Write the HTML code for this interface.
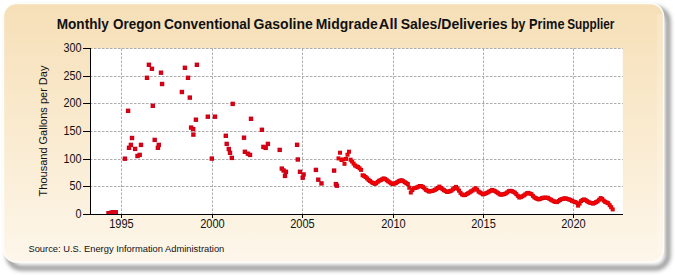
<!DOCTYPE html>
<html><head><meta charset="utf-8"><style>
html,body{margin:0;padding:0;background:#fff;}
svg{display:block;}
text{font-family:"Liberation Sans",sans-serif;fill:#111;}
</style></head><body>
<svg width="675" height="275" viewBox="0 0 675 275">
<defs>
<linearGradient id="bg" x1="0" y1="0" x2="0" y2="1">
<stop offset="0" stop-color="#f6dfb7"/>
<stop offset="0.5" stop-color="#faebd0"/>
<stop offset="1" stop-color="#fdf6ea"/>
</linearGradient>
<clipPath id="pc"><rect x="90" y="40" width="533" height="174"/></clipPath>
<filter id="sh" x="-5%" y="-5%" width="110%" height="115%"><feGaussianBlur stdDeviation="2.1"/></filter><filter id="bl" x="-2%" y="-2%" width="104%" height="104%"><feGaussianBlur stdDeviation="0.6"/></filter>
</defs>
<rect x="8.5" y="8.5" width="659.5" height="259.5" rx="13" fill="none" stroke="#959595" stroke-width="5" filter="url(#sh)"/>
<rect x="3.5" y="3.5" width="660" height="258.5" rx="13" fill="url(#bg)" stroke="#fffdf8" stroke-width="1.4" filter="url(#bl)"/>
<rect x="657" y="14" width="5" height="238" fill="#fff" fill-opacity="0.18" filter="url(#bl)"/>
<rect x="90" y="48.5" width="532.8" height="166.0" fill="#fff"/>
<g stroke="#acacac" stroke-width="1" stroke-dasharray="2.5 1.5"><line x1="90" y1="186.5" x2="622.8" y2="186.5"/><line x1="90" y1="159.5" x2="622.8" y2="159.5"/><line x1="90" y1="131.5" x2="622.8" y2="131.5"/><line x1="90" y1="103.5" x2="622.8" y2="103.5"/><line x1="90" y1="76.5" x2="622.8" y2="76.5"/><line x1="90" y1="48.5" x2="622.8" y2="48.5"/><line x1="121.5" y1="48.5" x2="121.5" y2="214.5"/><line x1="212.5" y1="48.5" x2="212.5" y2="214.5"/><line x1="302.5" y1="48.5" x2="302.5" y2="214.5"/><line x1="393.5" y1="48.5" x2="393.5" y2="214.5"/><line x1="483.5" y1="48.5" x2="483.5" y2="214.5"/><line x1="573.5" y1="48.5" x2="573.5" y2="214.5"/></g>
<g clip-path="url(#pc)"><g fill="#cc0010"><rect x="336.5" y="156.4" width="4.0" height="4.0"/><rect x="338.0" y="150.7" width="4.0" height="4.0"/><rect x="339.5" y="158.0" width="4.0" height="4.0"/><rect x="341.0" y="157.4" width="4.0" height="4.0"/><rect x="342.5" y="161.8" width="4.0" height="4.0"/><rect x="344.0" y="156.9" width="4.0" height="4.0"/><rect x="345.5" y="152.7" width="4.0" height="4.0"/><rect x="347.0" y="149.7" width="4.0" height="4.0"/><rect x="348.6" y="157.7" width="4.0" height="4.0"/><rect x="350.1" y="159.5" width="4.0" height="4.0"/><rect x="351.6" y="161.6" width="4.0" height="4.0"/><rect x="353.1" y="163.5" width="4.0" height="4.0"/><rect x="354.6" y="164.4" width="4.0" height="4.0"/><rect x="356.1" y="165.0" width="4.0" height="4.0"/><rect x="357.6" y="166.3" width="4.0" height="4.0"/><rect x="359.1" y="167.9" width="4.0" height="4.0"/><rect x="360.6" y="173.3" width="4.0" height="4.0"/><rect x="362.1" y="173.8" width="4.0" height="4.0"/><rect x="363.6" y="175.0" width="4.0" height="4.0"/><rect x="365.1" y="176.4" width="4.0" height="4.0"/><rect x="366.6" y="177.9" width="4.0" height="4.0"/><rect x="368.1" y="179.0" width="4.0" height="4.0"/><rect x="369.6" y="180.3" width="4.0" height="4.0"/><rect x="371.2" y="181.0" width="4.0" height="4.0"/><rect x="372.7" y="181.9" width="4.0" height="4.0"/><rect x="374.2" y="181.2" width="4.0" height="4.0"/><rect x="375.7" y="179.8" width="4.0" height="4.0"/><rect x="377.2" y="178.7" width="4.0" height="4.0"/><rect x="378.7" y="178.1" width="4.0" height="4.0"/><rect x="380.2" y="177.3" width="4.0" height="4.0"/><rect x="381.7" y="176.4" width="4.0" height="4.0"/><rect x="383.2" y="177.0" width="4.0" height="4.0"/><rect x="384.7" y="178.2" width="4.0" height="4.0"/><rect x="386.2" y="179.3" width="4.0" height="4.0"/><rect x="387.7" y="180.3" width="4.0" height="4.0"/><rect x="389.2" y="181.4" width="4.0" height="4.0"/><rect x="390.7" y="182.0" width="4.0" height="4.0"/><rect x="392.2" y="181.6" width="4.0" height="4.0"/><rect x="393.8" y="181.2" width="4.0" height="4.0"/><rect x="395.3" y="180.1" width="4.0" height="4.0"/><rect x="396.8" y="179.2" width="4.0" height="4.0"/><rect x="398.3" y="178.5" width="4.0" height="4.0"/><rect x="399.8" y="178.3" width="4.0" height="4.0"/><rect x="401.3" y="179.2" width="4.0" height="4.0"/><rect x="402.8" y="180.2" width="4.0" height="4.0"/><rect x="404.3" y="181.2" width="4.0" height="4.0"/><rect x="405.8" y="182.0" width="4.0" height="4.0"/><rect x="407.3" y="185.7" width="4.0" height="4.0"/><rect x="408.8" y="190.5" width="4.0" height="4.0"/><rect x="410.3" y="188.0" width="4.0" height="4.0"/><rect x="411.8" y="186.3" width="4.0" height="4.0"/><rect x="413.3" y="185.9" width="4.0" height="4.0"/><rect x="414.8" y="185.5" width="4.0" height="4.0"/><rect x="416.4" y="184.7" width="4.0" height="4.0"/><rect x="417.9" y="184.0" width="4.0" height="4.0"/><rect x="419.4" y="184.1" width="4.0" height="4.0"/><rect x="420.9" y="184.9" width="4.0" height="4.0"/><rect x="422.4" y="186.3" width="4.0" height="4.0"/><rect x="423.9" y="187.8" width="4.0" height="4.0"/><rect x="425.4" y="188.6" width="4.0" height="4.0"/><rect x="426.9" y="189.5" width="4.0" height="4.0"/><rect x="428.4" y="189.3" width="4.0" height="4.0"/><rect x="429.9" y="189.0" width="4.0" height="4.0"/><rect x="431.4" y="188.6" width="4.0" height="4.0"/><rect x="432.9" y="187.8" width="4.0" height="4.0"/><rect x="434.4" y="187.1" width="4.0" height="4.0"/><rect x="435.9" y="185.9" width="4.0" height="4.0"/><rect x="437.4" y="184.6" width="4.0" height="4.0"/><rect x="439.0" y="185.9" width="4.0" height="4.0"/><rect x="440.5" y="187.2" width="4.0" height="4.0"/><rect x="442.0" y="188.2" width="4.0" height="4.0"/><rect x="443.5" y="189.1" width="4.0" height="4.0"/><rect x="445.0" y="189.9" width="4.0" height="4.0"/><rect x="446.5" y="189.7" width="4.0" height="4.0"/><rect x="448.0" y="189.2" width="4.0" height="4.0"/><rect x="449.5" y="188.6" width="4.0" height="4.0"/><rect x="451.0" y="187.3" width="4.0" height="4.0"/><rect x="452.5" y="186.0" width="4.0" height="4.0"/><rect x="454.0" y="184.9" width="4.0" height="4.0"/><rect x="455.5" y="186.7" width="4.0" height="4.0"/><rect x="457.0" y="188.6" width="4.0" height="4.0"/><rect x="458.5" y="190.8" width="4.0" height="4.0"/><rect x="460.0" y="192.4" width="4.0" height="4.0"/><rect x="461.6" y="193.2" width="4.0" height="4.0"/><rect x="463.1" y="193.0" width="4.0" height="4.0"/><rect x="464.6" y="192.1" width="4.0" height="4.0"/><rect x="466.1" y="191.3" width="4.0" height="4.0"/><rect x="467.6" y="190.4" width="4.0" height="4.0"/><rect x="469.1" y="189.4" width="4.0" height="4.0"/><rect x="470.6" y="188.5" width="4.0" height="4.0"/><rect x="472.1" y="187.4" width="4.0" height="4.0"/><rect x="473.6" y="186.2" width="4.0" height="4.0"/><rect x="475.1" y="187.6" width="4.0" height="4.0"/><rect x="476.6" y="189.6" width="4.0" height="4.0"/><rect x="478.1" y="190.5" width="4.0" height="4.0"/><rect x="479.6" y="191.4" width="4.0" height="4.0"/><rect x="481.1" y="192.4" width="4.0" height="4.0"/><rect x="482.6" y="191.8" width="4.0" height="4.0"/><rect x="484.2" y="191.2" width="4.0" height="4.0"/><rect x="485.7" y="190.5" width="4.0" height="4.0"/><rect x="487.2" y="189.6" width="4.0" height="4.0"/><rect x="488.7" y="188.8" width="4.0" height="4.0"/><rect x="490.2" y="187.9" width="4.0" height="4.0"/><rect x="491.7" y="188.5" width="4.0" height="4.0"/><rect x="493.2" y="189.2" width="4.0" height="4.0"/><rect x="494.7" y="190.2" width="4.0" height="4.0"/><rect x="496.2" y="191.2" width="4.0" height="4.0"/><rect x="497.7" y="192.3" width="4.0" height="4.0"/><rect x="499.2" y="192.7" width="4.0" height="4.0"/><rect x="500.7" y="192.4" width="4.0" height="4.0"/><rect x="502.2" y="192.1" width="4.0" height="4.0"/><rect x="503.7" y="191.5" width="4.0" height="4.0"/><rect x="505.2" y="190.4" width="4.0" height="4.0"/><rect x="506.8" y="189.2" width="4.0" height="4.0"/><rect x="508.3" y="188.8" width="4.0" height="4.0"/><rect x="509.8" y="189.1" width="4.0" height="4.0"/><rect x="511.3" y="189.8" width="4.0" height="4.0"/><rect x="512.8" y="190.6" width="4.0" height="4.0"/><rect x="514.3" y="192.1" width="4.0" height="4.0"/><rect x="515.8" y="193.8" width="4.0" height="4.0"/><rect x="517.3" y="195.5" width="4.0" height="4.0"/><rect x="518.8" y="195.1" width="4.0" height="4.0"/><rect x="520.3" y="194.3" width="4.0" height="4.0"/><rect x="521.8" y="193.5" width="4.0" height="4.0"/><rect x="523.3" y="192.4" width="4.0" height="4.0"/><rect x="524.8" y="191.3" width="4.0" height="4.0"/><rect x="526.3" y="190.9" width="4.0" height="4.0"/><rect x="527.8" y="191.5" width="4.0" height="4.0"/><rect x="529.4" y="192.1" width="4.0" height="4.0"/><rect x="530.9" y="193.8" width="4.0" height="4.0"/><rect x="532.4" y="195.4" width="4.0" height="4.0"/><rect x="533.9" y="196.2" width="4.0" height="4.0"/><rect x="535.4" y="196.9" width="4.0" height="4.0"/><rect x="536.9" y="197.4" width="4.0" height="4.0"/><rect x="538.4" y="196.8" width="4.0" height="4.0"/><rect x="539.9" y="196.2" width="4.0" height="4.0"/><rect x="541.4" y="195.7" width="4.0" height="4.0"/><rect x="542.9" y="195.7" width="4.0" height="4.0"/><rect x="544.4" y="195.7" width="4.0" height="4.0"/><rect x="545.9" y="195.8" width="4.0" height="4.0"/><rect x="547.4" y="196.8" width="4.0" height="4.0"/><rect x="548.9" y="197.7" width="4.0" height="4.0"/><rect x="550.4" y="198.6" width="4.0" height="4.0"/><rect x="552.0" y="199.3" width="4.0" height="4.0"/><rect x="553.5" y="200.0" width="4.0" height="4.0"/><rect x="555.0" y="200.1" width="4.0" height="4.0"/><rect x="556.5" y="199.0" width="4.0" height="4.0"/><rect x="558.0" y="197.9" width="4.0" height="4.0"/><rect x="559.5" y="197.2" width="4.0" height="4.0"/><rect x="561.0" y="196.8" width="4.0" height="4.0"/><rect x="562.5" y="196.3" width="4.0" height="4.0"/><rect x="564.0" y="196.5" width="4.0" height="4.0"/><rect x="565.5" y="196.9" width="4.0" height="4.0"/><rect x="567.0" y="197.4" width="4.0" height="4.0"/><rect x="568.5" y="198.0" width="4.0" height="4.0"/><rect x="570.0" y="198.8" width="4.0" height="4.0"/><rect x="571.5" y="199.5" width="4.0" height="4.0"/><rect x="573.0" y="200.1" width="4.0" height="4.0"/><rect x="574.6" y="200.6" width="4.0" height="4.0"/><rect x="576.1" y="203.6" width="4.0" height="4.0"/><rect x="577.6" y="201.6" width="4.0" height="4.0"/><rect x="579.1" y="199.1" width="4.0" height="4.0"/><rect x="580.6" y="198.0" width="4.0" height="4.0"/><rect x="582.1" y="197.4" width="4.0" height="4.0"/><rect x="583.6" y="198.1" width="4.0" height="4.0"/><rect x="585.1" y="199.2" width="4.0" height="4.0"/><rect x="586.6" y="200.2" width="4.0" height="4.0"/><rect x="588.1" y="200.7" width="4.0" height="4.0"/><rect x="589.6" y="201.1" width="4.0" height="4.0"/><rect x="591.1" y="201.6" width="4.0" height="4.0"/><rect x="592.6" y="200.9" width="4.0" height="4.0"/><rect x="594.1" y="200.1" width="4.0" height="4.0"/><rect x="595.6" y="199.3" width="4.0" height="4.0"/><rect x="597.2" y="197.7" width="4.0" height="4.0"/><rect x="598.7" y="196.1" width="4.0" height="4.0"/><rect x="600.2" y="196.9" width="4.0" height="4.0"/><rect x="601.7" y="198.6" width="4.0" height="4.0"/><rect x="603.2" y="199.8" width="4.0" height="4.0"/><rect x="604.7" y="200.5" width="4.0" height="4.0"/><rect x="606.2" y="201.2" width="4.0" height="4.0"/><rect x="607.7" y="203.2" width="4.0" height="4.0"/><rect x="609.2" y="205.2" width="4.0" height="4.0"/><rect x="610.7" y="207.4" width="4.0" height="4.0"/></g>
<g fill="#f50000"><rect x="337.2" y="157.1" width="2.6" height="2.6"/><rect x="338.7" y="151.4" width="2.6" height="2.6"/><rect x="340.2" y="158.7" width="2.6" height="2.6"/><rect x="341.7" y="158.1" width="2.6" height="2.6"/><rect x="343.2" y="162.5" width="2.6" height="2.6"/><rect x="344.7" y="157.6" width="2.6" height="2.6"/><rect x="346.2" y="153.4" width="2.6" height="2.6"/><rect x="347.7" y="150.4" width="2.6" height="2.6"/><rect x="349.3" y="158.4" width="2.6" height="2.6"/><rect x="350.8" y="160.2" width="2.6" height="2.6"/><rect x="352.3" y="162.3" width="2.6" height="2.6"/><rect x="353.8" y="164.2" width="2.6" height="2.6"/><rect x="355.3" y="165.1" width="2.6" height="2.6"/><rect x="356.8" y="165.7" width="2.6" height="2.6"/><rect x="358.3" y="167.0" width="2.6" height="2.6"/><rect x="359.8" y="168.6" width="2.6" height="2.6"/><rect x="361.3" y="174.0" width="2.6" height="2.6"/><rect x="362.8" y="174.5" width="2.6" height="2.6"/><rect x="364.3" y="175.7" width="2.6" height="2.6"/><rect x="365.8" y="177.1" width="2.6" height="2.6"/><rect x="367.3" y="178.6" width="2.6" height="2.6"/><rect x="368.8" y="179.7" width="2.6" height="2.6"/><rect x="370.3" y="181.0" width="2.6" height="2.6"/><rect x="371.9" y="181.7" width="2.6" height="2.6"/><rect x="373.4" y="182.6" width="2.6" height="2.6"/><rect x="374.9" y="181.9" width="2.6" height="2.6"/><rect x="376.4" y="180.5" width="2.6" height="2.6"/><rect x="377.9" y="179.4" width="2.6" height="2.6"/><rect x="379.4" y="178.8" width="2.6" height="2.6"/><rect x="380.9" y="178.0" width="2.6" height="2.6"/><rect x="382.4" y="177.1" width="2.6" height="2.6"/><rect x="383.9" y="177.7" width="2.6" height="2.6"/><rect x="385.4" y="178.9" width="2.6" height="2.6"/><rect x="386.9" y="180.0" width="2.6" height="2.6"/><rect x="388.4" y="181.0" width="2.6" height="2.6"/><rect x="389.9" y="182.1" width="2.6" height="2.6"/><rect x="391.4" y="182.7" width="2.6" height="2.6"/><rect x="392.9" y="182.3" width="2.6" height="2.6"/><rect x="394.5" y="181.9" width="2.6" height="2.6"/><rect x="396.0" y="180.8" width="2.6" height="2.6"/><rect x="397.5" y="179.9" width="2.6" height="2.6"/><rect x="399.0" y="179.2" width="2.6" height="2.6"/><rect x="400.5" y="179.0" width="2.6" height="2.6"/><rect x="402.0" y="179.9" width="2.6" height="2.6"/><rect x="403.5" y="180.9" width="2.6" height="2.6"/><rect x="405.0" y="181.9" width="2.6" height="2.6"/><rect x="406.5" y="182.7" width="2.6" height="2.6"/><rect x="408.0" y="186.4" width="2.6" height="2.6"/><rect x="409.5" y="191.2" width="2.6" height="2.6"/><rect x="411.0" y="188.7" width="2.6" height="2.6"/><rect x="412.5" y="187.0" width="2.6" height="2.6"/><rect x="414.0" y="186.6" width="2.6" height="2.6"/><rect x="415.5" y="186.2" width="2.6" height="2.6"/><rect x="417.1" y="185.4" width="2.6" height="2.6"/><rect x="418.6" y="184.7" width="2.6" height="2.6"/><rect x="420.1" y="184.8" width="2.6" height="2.6"/><rect x="421.6" y="185.6" width="2.6" height="2.6"/><rect x="423.1" y="187.0" width="2.6" height="2.6"/><rect x="424.6" y="188.5" width="2.6" height="2.6"/><rect x="426.1" y="189.3" width="2.6" height="2.6"/><rect x="427.6" y="190.2" width="2.6" height="2.6"/><rect x="429.1" y="190.0" width="2.6" height="2.6"/><rect x="430.6" y="189.7" width="2.6" height="2.6"/><rect x="432.1" y="189.3" width="2.6" height="2.6"/><rect x="433.6" y="188.5" width="2.6" height="2.6"/><rect x="435.1" y="187.8" width="2.6" height="2.6"/><rect x="436.6" y="186.6" width="2.6" height="2.6"/><rect x="438.1" y="185.3" width="2.6" height="2.6"/><rect x="439.7" y="186.6" width="2.6" height="2.6"/><rect x="441.2" y="187.9" width="2.6" height="2.6"/><rect x="442.7" y="188.9" width="2.6" height="2.6"/><rect x="444.2" y="189.8" width="2.6" height="2.6"/><rect x="445.7" y="190.6" width="2.6" height="2.6"/><rect x="447.2" y="190.4" width="2.6" height="2.6"/><rect x="448.7" y="189.9" width="2.6" height="2.6"/><rect x="450.2" y="189.3" width="2.6" height="2.6"/><rect x="451.7" y="188.0" width="2.6" height="2.6"/><rect x="453.2" y="186.7" width="2.6" height="2.6"/><rect x="454.7" y="185.6" width="2.6" height="2.6"/><rect x="456.2" y="187.4" width="2.6" height="2.6"/><rect x="457.7" y="189.3" width="2.6" height="2.6"/><rect x="459.2" y="191.5" width="2.6" height="2.6"/><rect x="460.7" y="193.1" width="2.6" height="2.6"/><rect x="462.3" y="193.9" width="2.6" height="2.6"/><rect x="463.8" y="193.7" width="2.6" height="2.6"/><rect x="465.3" y="192.8" width="2.6" height="2.6"/><rect x="466.8" y="192.0" width="2.6" height="2.6"/><rect x="468.3" y="191.1" width="2.6" height="2.6"/><rect x="469.8" y="190.1" width="2.6" height="2.6"/><rect x="471.3" y="189.2" width="2.6" height="2.6"/><rect x="472.8" y="188.1" width="2.6" height="2.6"/><rect x="474.3" y="186.9" width="2.6" height="2.6"/><rect x="475.8" y="188.3" width="2.6" height="2.6"/><rect x="477.3" y="190.3" width="2.6" height="2.6"/><rect x="478.8" y="191.2" width="2.6" height="2.6"/><rect x="480.3" y="192.1" width="2.6" height="2.6"/><rect x="481.8" y="193.1" width="2.6" height="2.6"/><rect x="483.3" y="192.5" width="2.6" height="2.6"/><rect x="484.9" y="191.9" width="2.6" height="2.6"/><rect x="486.4" y="191.2" width="2.6" height="2.6"/><rect x="487.9" y="190.3" width="2.6" height="2.6"/><rect x="489.4" y="189.5" width="2.6" height="2.6"/><rect x="490.9" y="188.6" width="2.6" height="2.6"/><rect x="492.4" y="189.2" width="2.6" height="2.6"/><rect x="493.9" y="189.9" width="2.6" height="2.6"/><rect x="495.4" y="190.9" width="2.6" height="2.6"/><rect x="496.9" y="191.9" width="2.6" height="2.6"/><rect x="498.4" y="193.0" width="2.6" height="2.6"/><rect x="499.9" y="193.4" width="2.6" height="2.6"/><rect x="501.4" y="193.1" width="2.6" height="2.6"/><rect x="502.9" y="192.8" width="2.6" height="2.6"/><rect x="504.4" y="192.2" width="2.6" height="2.6"/><rect x="505.9" y="191.1" width="2.6" height="2.6"/><rect x="507.5" y="189.9" width="2.6" height="2.6"/><rect x="509.0" y="189.5" width="2.6" height="2.6"/><rect x="510.5" y="189.8" width="2.6" height="2.6"/><rect x="512.0" y="190.5" width="2.6" height="2.6"/><rect x="513.5" y="191.3" width="2.6" height="2.6"/><rect x="515.0" y="192.8" width="2.6" height="2.6"/><rect x="516.5" y="194.5" width="2.6" height="2.6"/><rect x="518.0" y="196.2" width="2.6" height="2.6"/><rect x="519.5" y="195.8" width="2.6" height="2.6"/><rect x="521.0" y="195.0" width="2.6" height="2.6"/><rect x="522.5" y="194.2" width="2.6" height="2.6"/><rect x="524.0" y="193.1" width="2.6" height="2.6"/><rect x="525.5" y="192.0" width="2.6" height="2.6"/><rect x="527.0" y="191.6" width="2.6" height="2.6"/><rect x="528.5" y="192.2" width="2.6" height="2.6"/><rect x="530.1" y="192.8" width="2.6" height="2.6"/><rect x="531.6" y="194.5" width="2.6" height="2.6"/><rect x="533.1" y="196.1" width="2.6" height="2.6"/><rect x="534.6" y="196.9" width="2.6" height="2.6"/><rect x="536.1" y="197.6" width="2.6" height="2.6"/><rect x="537.6" y="198.1" width="2.6" height="2.6"/><rect x="539.1" y="197.5" width="2.6" height="2.6"/><rect x="540.6" y="196.9" width="2.6" height="2.6"/><rect x="542.1" y="196.4" width="2.6" height="2.6"/><rect x="543.6" y="196.4" width="2.6" height="2.6"/><rect x="545.1" y="196.4" width="2.6" height="2.6"/><rect x="546.6" y="196.5" width="2.6" height="2.6"/><rect x="548.1" y="197.5" width="2.6" height="2.6"/><rect x="549.6" y="198.4" width="2.6" height="2.6"/><rect x="551.1" y="199.3" width="2.6" height="2.6"/><rect x="552.7" y="200.0" width="2.6" height="2.6"/><rect x="554.2" y="200.7" width="2.6" height="2.6"/><rect x="555.7" y="200.8" width="2.6" height="2.6"/><rect x="557.2" y="199.7" width="2.6" height="2.6"/><rect x="558.7" y="198.6" width="2.6" height="2.6"/><rect x="560.2" y="197.9" width="2.6" height="2.6"/><rect x="561.7" y="197.5" width="2.6" height="2.6"/><rect x="563.2" y="197.0" width="2.6" height="2.6"/><rect x="564.7" y="197.2" width="2.6" height="2.6"/><rect x="566.2" y="197.6" width="2.6" height="2.6"/><rect x="567.7" y="198.1" width="2.6" height="2.6"/><rect x="569.2" y="198.7" width="2.6" height="2.6"/><rect x="570.7" y="199.5" width="2.6" height="2.6"/><rect x="572.2" y="200.2" width="2.6" height="2.6"/><rect x="573.7" y="200.8" width="2.6" height="2.6"/><rect x="575.3" y="201.3" width="2.6" height="2.6"/><rect x="576.8" y="204.3" width="2.6" height="2.6"/><rect x="578.3" y="202.3" width="2.6" height="2.6"/><rect x="579.8" y="199.8" width="2.6" height="2.6"/><rect x="581.3" y="198.7" width="2.6" height="2.6"/><rect x="582.8" y="198.1" width="2.6" height="2.6"/><rect x="584.3" y="198.8" width="2.6" height="2.6"/><rect x="585.8" y="199.9" width="2.6" height="2.6"/><rect x="587.3" y="200.9" width="2.6" height="2.6"/><rect x="588.8" y="201.4" width="2.6" height="2.6"/><rect x="590.3" y="201.8" width="2.6" height="2.6"/><rect x="591.8" y="202.3" width="2.6" height="2.6"/><rect x="593.3" y="201.6" width="2.6" height="2.6"/><rect x="594.8" y="200.8" width="2.6" height="2.6"/><rect x="596.3" y="200.0" width="2.6" height="2.6"/><rect x="597.9" y="198.4" width="2.6" height="2.6"/><rect x="599.4" y="196.8" width="2.6" height="2.6"/><rect x="600.9" y="197.6" width="2.6" height="2.6"/><rect x="602.4" y="199.3" width="2.6" height="2.6"/><rect x="603.9" y="200.5" width="2.6" height="2.6"/><rect x="605.4" y="201.2" width="2.6" height="2.6"/><rect x="606.9" y="201.9" width="2.6" height="2.6"/><rect x="608.4" y="203.9" width="2.6" height="2.6"/><rect x="609.9" y="205.9" width="2.6" height="2.6"/><rect x="611.4" y="208.1" width="2.6" height="2.6"/></g>
<g fill="#c8001a"><rect x="146.7" y="62.6" width="4.4" height="4.4"/><rect x="149.7" y="66.6" width="4.4" height="4.4"/><rect x="158.8" y="70.5" width="4.4" height="4.4"/><rect x="144.8" y="75.6" width="4.4" height="4.4"/><rect x="159.9" y="81.8" width="4.4" height="4.4"/><rect x="182.7" y="65.6" width="4.4" height="4.4"/><rect x="185.8" y="75.6" width="4.4" height="4.4"/><rect x="179.7" y="89.8" width="4.4" height="4.4"/><rect x="187.6" y="95.4" width="4.4" height="4.4"/><rect x="150.6" y="103.6" width="4.4" height="4.4"/><rect x="125.9" y="108.6" width="4.4" height="4.4"/><rect x="129.8" y="135.8" width="4.4" height="4.4"/><rect x="128.7" y="142.7" width="4.4" height="4.4"/><rect x="126.8" y="145.6" width="4.4" height="4.4"/><rect x="132.9" y="146.7" width="4.4" height="4.4"/><rect x="138.8" y="142.7" width="4.4" height="4.4"/><rect x="152.5" y="137.7" width="4.4" height="4.4"/><rect x="156.6" y="142.7" width="4.4" height="4.4"/><rect x="155.7" y="145.6" width="4.4" height="4.4"/><rect x="135.3" y="153.8" width="4.4" height="4.4"/><rect x="137.5" y="152.7" width="4.4" height="4.4"/><rect x="122.7" y="156.5" width="4.4" height="4.4"/><rect x="188.9" y="125.4" width="4.4" height="4.4"/><rect x="191.2" y="132.4" width="4.4" height="4.4"/><rect x="191.0" y="126.9" width="4.4" height="4.4"/><rect x="194.7" y="62.6" width="4.4" height="4.4"/><rect x="230.5" y="101.7" width="4.4" height="4.4"/><rect x="205.6" y="114.5" width="4.4" height="4.4"/><rect x="212.8" y="114.5" width="4.4" height="4.4"/><rect x="193.7" y="117.5" width="4.4" height="4.4"/><rect x="248.8" y="116.6" width="4.4" height="4.4"/><rect x="223.6" y="133.6" width="4.4" height="4.4"/><rect x="224.5" y="141.7" width="4.4" height="4.4"/><rect x="226.6" y="146.8" width="4.4" height="4.4"/><rect x="227.8" y="150.6" width="4.4" height="4.4"/><rect x="229.6" y="155.7" width="4.4" height="4.4"/><rect x="209.6" y="156.4" width="4.4" height="4.4"/><rect x="241.8" y="135.5" width="4.4" height="4.4"/><rect x="242.7" y="149.6" width="4.4" height="4.4"/><rect x="245.7" y="151.5" width="4.4" height="4.4"/><rect x="247.8" y="152.7" width="4.4" height="4.4"/><rect x="259.7" y="127.6" width="4.4" height="4.4"/><rect x="261.2" y="144.7" width="4.4" height="4.4"/><rect x="263.5" y="145.7" width="4.4" height="4.4"/><rect x="265.7" y="141.7" width="4.4" height="4.4"/><rect x="277.5" y="147.7" width="4.4" height="4.4"/><rect x="279.6" y="166.4" width="4.4" height="4.4"/><rect x="281.4" y="168.3" width="4.4" height="4.4"/><rect x="283.7" y="169.6" width="4.4" height="4.4"/><rect x="282.8" y="173.7" width="4.4" height="4.4"/><rect x="294.9" y="142.6" width="4.4" height="4.4"/><rect x="295.6" y="157.3" width="4.4" height="4.4"/><rect x="297.8" y="169.6" width="4.4" height="4.4"/><rect x="301.4" y="172.3" width="4.4" height="4.4"/><rect x="300.5" y="175.5" width="4.4" height="4.4"/><rect x="313.7" y="167.7" width="4.4" height="4.4"/><rect x="316.1" y="177.5" width="4.4" height="4.4"/><rect x="319.3" y="181.2" width="4.4" height="4.4"/><rect x="331.9" y="168.4" width="4.4" height="4.4"/><rect x="333.7" y="181.9" width="4.4" height="4.4"/><rect x="334.6" y="183.5" width="4.4" height="4.4"/><rect x="106.3" y="211.0" width="4.4" height="4.4"/><rect x="107.8" y="211.0" width="4.4" height="4.4"/><rect x="109.3" y="210.4" width="4.4" height="4.4"/><rect x="110.8" y="210.1" width="4.4" height="4.4"/><rect x="112.3" y="210.1" width="4.4" height="4.4"/><rect x="113.6" y="210.1" width="4.4" height="4.4"/></g>
<g fill="#e00010"><rect x="147.7" y="63.6" width="2.4" height="2.4"/><rect x="150.7" y="67.6" width="2.4" height="2.4"/><rect x="159.8" y="71.5" width="2.4" height="2.4"/><rect x="145.8" y="76.6" width="2.4" height="2.4"/><rect x="160.9" y="82.8" width="2.4" height="2.4"/><rect x="183.7" y="66.6" width="2.4" height="2.4"/><rect x="186.8" y="76.6" width="2.4" height="2.4"/><rect x="180.7" y="90.8" width="2.4" height="2.4"/><rect x="188.6" y="96.4" width="2.4" height="2.4"/><rect x="151.6" y="104.6" width="2.4" height="2.4"/><rect x="126.9" y="109.6" width="2.4" height="2.4"/><rect x="130.8" y="136.8" width="2.4" height="2.4"/><rect x="129.7" y="143.7" width="2.4" height="2.4"/><rect x="127.8" y="146.6" width="2.4" height="2.4"/><rect x="133.9" y="147.7" width="2.4" height="2.4"/><rect x="139.8" y="143.7" width="2.4" height="2.4"/><rect x="153.5" y="138.7" width="2.4" height="2.4"/><rect x="157.6" y="143.7" width="2.4" height="2.4"/><rect x="156.7" y="146.6" width="2.4" height="2.4"/><rect x="136.3" y="154.8" width="2.4" height="2.4"/><rect x="138.5" y="153.7" width="2.4" height="2.4"/><rect x="123.7" y="157.5" width="2.4" height="2.4"/><rect x="189.9" y="126.4" width="2.4" height="2.4"/><rect x="192.2" y="133.4" width="2.4" height="2.4"/><rect x="192.0" y="127.9" width="2.4" height="2.4"/><rect x="195.7" y="63.6" width="2.4" height="2.4"/><rect x="231.5" y="102.7" width="2.4" height="2.4"/><rect x="206.6" y="115.5" width="2.4" height="2.4"/><rect x="213.8" y="115.5" width="2.4" height="2.4"/><rect x="194.7" y="118.5" width="2.4" height="2.4"/><rect x="249.8" y="117.6" width="2.4" height="2.4"/><rect x="224.6" y="134.6" width="2.4" height="2.4"/><rect x="225.5" y="142.7" width="2.4" height="2.4"/><rect x="227.6" y="147.8" width="2.4" height="2.4"/><rect x="228.8" y="151.6" width="2.4" height="2.4"/><rect x="230.6" y="156.7" width="2.4" height="2.4"/><rect x="210.6" y="157.4" width="2.4" height="2.4"/><rect x="242.8" y="136.5" width="2.4" height="2.4"/><rect x="243.7" y="150.6" width="2.4" height="2.4"/><rect x="246.7" y="152.5" width="2.4" height="2.4"/><rect x="248.8" y="153.7" width="2.4" height="2.4"/><rect x="260.7" y="128.6" width="2.4" height="2.4"/><rect x="262.2" y="145.7" width="2.4" height="2.4"/><rect x="264.5" y="146.7" width="2.4" height="2.4"/><rect x="266.7" y="142.7" width="2.4" height="2.4"/><rect x="278.5" y="148.7" width="2.4" height="2.4"/><rect x="280.6" y="167.4" width="2.4" height="2.4"/><rect x="282.4" y="169.3" width="2.4" height="2.4"/><rect x="284.7" y="170.6" width="2.4" height="2.4"/><rect x="283.8" y="174.7" width="2.4" height="2.4"/><rect x="295.9" y="143.6" width="2.4" height="2.4"/><rect x="296.6" y="158.3" width="2.4" height="2.4"/><rect x="298.8" y="170.6" width="2.4" height="2.4"/><rect x="302.4" y="173.3" width="2.4" height="2.4"/><rect x="301.5" y="176.5" width="2.4" height="2.4"/><rect x="314.7" y="168.7" width="2.4" height="2.4"/><rect x="317.1" y="178.5" width="2.4" height="2.4"/><rect x="320.3" y="182.2" width="2.4" height="2.4"/><rect x="332.9" y="169.4" width="2.4" height="2.4"/><rect x="334.7" y="182.9" width="2.4" height="2.4"/><rect x="335.6" y="184.5" width="2.4" height="2.4"/><rect x="107.3" y="212.0" width="2.4" height="2.4"/><rect x="108.8" y="212.0" width="2.4" height="2.4"/><rect x="110.3" y="211.4" width="2.4" height="2.4"/><rect x="111.8" y="211.1" width="2.4" height="2.4"/><rect x="113.3" y="211.1" width="2.4" height="2.4"/><rect x="114.6" y="211.1" width="2.4" height="2.4"/></g></g>
<g fill="#000">
<rect x="90" y="48" width="1" height="167"/>
<rect x="83" y="214" width="540" height="1"/>
</g>
<g font-size="12"><text x="81.5" y="218.3" text-anchor="end" transform="translate(81.5,0) scale(0.9,1) translate(-81.5,0)">0</text><text x="81.5" y="190.3" text-anchor="end" transform="translate(81.5,0) scale(0.9,1) translate(-81.5,0)">50</text><text x="81.5" y="163.3" text-anchor="end" transform="translate(81.5,0) scale(0.9,1) translate(-81.5,0)">100</text><text x="81.5" y="135.3" text-anchor="end" transform="translate(81.5,0) scale(0.9,1) translate(-81.5,0)">150</text><text x="81.5" y="107.3" text-anchor="end" transform="translate(81.5,0) scale(0.9,1) translate(-81.5,0)">200</text><text x="81.5" y="80.3" text-anchor="end" transform="translate(81.5,0) scale(0.9,1) translate(-81.5,0)">250</text><text x="81.5" y="52.3" text-anchor="end" transform="translate(81.5,0) scale(0.9,1) translate(-81.5,0)">300</text><text x="121.5" y="227.8" text-anchor="middle" transform="translate(121.5,0) scale(0.92,1) translate(-121.5,0)">1995</text><text x="212.5" y="227.8" text-anchor="middle" transform="translate(212.5,0) scale(0.92,1) translate(-212.5,0)">2000</text><text x="302.5" y="227.8" text-anchor="middle" transform="translate(302.5,0) scale(0.92,1) translate(-302.5,0)">2005</text><text x="393.5" y="227.8" text-anchor="middle" transform="translate(393.5,0) scale(0.92,1) translate(-393.5,0)">2010</text><text x="483.5" y="227.8" text-anchor="middle" transform="translate(483.5,0) scale(0.92,1) translate(-483.5,0)">2015</text><text x="573.5" y="227.8" text-anchor="middle" transform="translate(573.5,0) scale(0.92,1) translate(-573.5,0)">2020</text></g><g fill="#000"><rect x="83" y="214" width="7" height="1"/><rect x="83" y="186" width="7" height="1"/><rect x="83" y="159" width="7" height="1"/><rect x="83" y="131" width="7" height="1"/><rect x="83" y="103" width="7" height="1"/><rect x="83" y="76" width="7" height="1"/><rect x="83" y="48" width="7" height="1"/><rect x="121" y="214" width="1" height="4"/><rect x="212" y="214" width="1" height="4"/><rect x="302" y="214" width="1" height="4"/><rect x="393" y="214" width="1" height="4"/><rect x="483" y="214" width="1" height="4"/><rect x="573" y="214" width="1" height="4"/></g>
<g font-size="14" font-weight="bold"><text x="0" y="29" transform="translate(56.73,0) scale(0.972,1)">Monthly</text><text x="0" y="29" transform="translate(113.04,0) scale(0.962,1)">Oregon</text><text x="0" y="29" transform="translate(163.92,0) scale(0.979,1)">Conventional</text><text x="0" y="29" transform="translate(253.60,0) scale(1.002,1)">Gasoline</text><text x="0" y="29" transform="translate(315.70,0) scale(0.997,1)">Midgrade</text><text x="0" y="29" transform="translate(378.85,0) scale(1.047,1)">All</text><text x="0" y="29" transform="translate(400.70,0) scale(1.003,1)">Sales/Deliveries</text><text x="0" y="29" transform="translate(510.92,0) scale(0.880,1)">by</text><text x="0" y="29" transform="translate(528.99,0) scale(0.914,1)">Prime</text><text x="0" y="29" transform="translate(567.16,0) scale(0.844,1)">Supplier</text></g>
<text transform="translate(47.1,131) rotate(-90)" font-size="11" text-anchor="middle">Thousand Gallons per Day</text>
<text x="0" y="252.5" font-size="9.2" transform="translate(28.4,0) scale(1.018,1)">Source: U.S. Energy Information Administration</text>
</svg>
</body></html>
